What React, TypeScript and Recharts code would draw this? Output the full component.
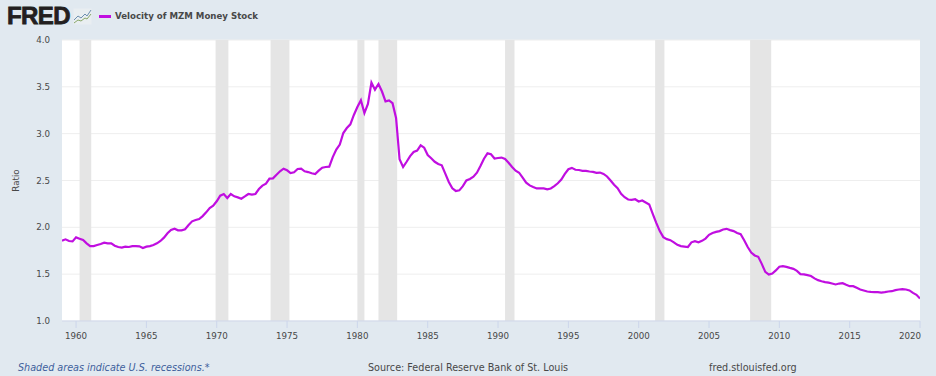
import { CartesianGrid, Label, Line, LineChart, ReferenceArea, XAxis, YAxis } from "recharts";

// quarterly values
const velocity1959to1969 = [
  1.858, 1.872, 1.854, 1.85, 1.893, 1.879, 1.865, 1.829, 1.8, 1.8, 1.811, 1.822,
  1.836, 1.829, 1.829, 1.804, 1.79, 1.783, 1.794, 1.79, 1.8, 1.8, 1.797, 1.78,
  1.794, 1.8, 1.811, 1.829, 1.854, 1.89, 1.936, 1.972, 1.986, 1.968, 1.968, 1.979,
  2.025, 2.064, 2.078, 2.089, 2.12, 2.16, 2.206, 2.23,
];
const velocity1970s = [
  2.278, 2.338, 2.356, 2.313, 2.356, 2.331, 2.32, 2.306, 2.33, 2.356, 2.349, 2.356,
  2.409, 2.445, 2.466, 2.52, 2.523, 2.562, 2.598, 2.626, 2.609, 2.58, 2.587, 2.623,
  2.626, 2.598, 2.59, 2.577, 2.569, 2.605, 2.637, 2.644, 2.648, 2.75, 2.83, 2.883,
  3.007, 3.06, 3.1, 3.2,
];
const velocity1980s = [
  3.285, 3.356, 3.22, 3.317, 3.545, 3.47, 3.53, 3.45, 3.345, 3.355, 3.325, 3.167,
  2.726, 2.644, 2.7, 2.76, 2.804, 2.82, 2.876, 2.85, 2.772, 2.737, 2.7, 2.676,
  2.662, 2.573, 2.484, 2.416, 2.388, 2.395, 2.44, 2.5, 2.516, 2.54, 2.583, 2.655,
  2.733, 2.79, 2.78, 2.735,
];
const velocity1990s = [
  2.74, 2.745, 2.73, 2.69, 2.644, 2.605, 2.583, 2.53, 2.477, 2.448, 2.43, 2.415,
  2.415, 2.415, 2.405, 2.415, 2.44, 2.47, 2.51, 2.57, 2.62, 2.635, 2.615, 2.612,
  2.603, 2.603, 2.596, 2.592, 2.582, 2.585, 2.57, 2.543, 2.5, 2.454, 2.418, 2.358,
  2.322, 2.297, 2.294, 2.3,
];
const velocity2000s = [
  2.276, 2.286, 2.265, 2.244, 2.144, 2.048, 1.96, 1.895, 1.874, 1.863, 1.84, 1.813,
  1.8, 1.795, 1.79, 1.84, 1.852, 1.84, 1.856, 1.88, 1.92, 1.94, 1.952, 1.96,
  1.977, 1.984, 1.97, 1.96, 1.94, 1.927, 1.863, 1.79, 1.73, 1.7, 1.685, 1.61,
  1.525, 1.495, 1.507, 1.54,
];
const velocity2010s = [
  1.58, 1.585, 1.578, 1.567, 1.557, 1.535, 1.5, 1.497, 1.49, 1.48, 1.455, 1.436,
  1.425, 1.415, 1.41, 1.4, 1.39, 1.4, 1.404, 1.386, 1.372, 1.372, 1.354, 1.336,
  1.326, 1.315, 1.31, 1.308, 1.308, 1.304, 1.308, 1.315, 1.318, 1.33, 1.336, 1.34,
  1.336, 1.326, 1.3, 1.28, 1.24,
];

const velocity = [
  ...velocity1959to1969,
  ...velocity1970s,
  ...velocity1980s,
  ...velocity1990s,
  ...velocity2000s,
  ...velocity2010s,
];

const yearTicks = [1960, 1965, 1970, 1975, 1980, 1985, 1990, 1995, 2000, 2005, 2010, 2015, 2020];
const ratioTicks = [1, 1.5, 2, 2.5, 3, 3.5, 4];
const recessions = [
  [1960.25, 1961.08],
  [1969.92, 1970.83],
  [1973.83, 1975.17],
  [1980.0, 1980.5],
  [1981.5, 1982.83],
  [1990.5, 1991.17],
  [2001.17, 2001.83],
  [2007.92, 2009.42],
];

const data = velocity.map((v, i) => ({ date: 1959 + i / 4, velocity: v }));

const FONT = "'DejaVu Sans', sans-serif";
const PAGE = "#e1e9f0";
const PURPLE = "#c00ee0";
const INK = "#484848";

function YearTick({ x, y, payload }: any) {
  const last = payload.value === 2020;
  return (
    <text x={last ? x + 1 : x} y={y} dy={9} textAnchor={last ? "end" : "middle"} fontSize={8.7} fontFamily={FONT} fill={INK}>
      {payload.value}
    </text>
  );
}

function Logo() {
  return (
    <div style={{ position: "absolute", left: 0, top: 0 }}>
      <span
        style={{
          position: "absolute",
          left: 7,
          top: 2,
          fontFamily: "'Liberation Sans', sans-serif",
          fontWeight: 700,
          fontSize: 24,
          lineHeight: "28px",
          color: "#231f20",
          letterSpacing: -0.6,
          WebkitTextStroke: "0.8px #231f20",
        }}
      >
        FRED
      </span>
      <svg width={20} height={17} style={{ position: "absolute", left: 73, top: 8 }}>
        <rect x={0.5} y={0.5} width={18} height={16} fill="#e9eef1" />
        <polyline points="1,12 5,8 8,10 12,6 14,8 18,2" fill="none" stroke="#6d8fb0" strokeWidth={1} />
        <polyline points="1,15 5,12 8,13 12,10 14,11 18,6" fill="none" stroke="#8aa86a" strokeWidth={1} />
      </svg>
    </div>
  );
}

const footerText = {
  position: "absolute",
  top: 361,
  fontFamily: FONT,
  fontSize: 9.65,
  lineHeight: "14px",
  color: INK,
  whiteSpace: "nowrap",
} as const;

export default function App() {
  return (
    <div style={{ position: "absolute", left: 0, top: 0, width: 936, height: 376, background: PAGE, overflow: "hidden" }}>
      <Logo />
      <div style={{ position: "absolute", left: 99, top: 15, width: 12, height: 2.5, background: PURPLE }} />
      <div
        style={{
          position: "absolute",
          left: 115,
          top: 9,
          fontFamily: FONT,
          fontWeight: 700,
          fontSize: 8.65,
          lineHeight: "14px",
          color: INK,
          whiteSpace: "nowrap",
        }}
      >
        Velocity of MZM Money Stock
      </div>
      <LineChart width={936} height={376} data={data} margin={{ top: 40, right: 16, left: 0, bottom: 0 }}>
        <CartesianGrid horizontal vertical={false} fill="#fff" stroke="#eeeeee" horizontalValues={ratioTicks} />
        <XAxis
          dataKey="date"
          type="number"
          domain={[1959, 2020]}
          ticks={yearTicks}
          interval={0}
          height={55}
          tick={<YearTick />}
          tickSize={7}
          tickLine={{ stroke: "#ccd6eb" }}
          axisLine={{ stroke: "#ccd6eb" }}
          allowDataOverflow
        />
        <YAxis
          type="number"
          domain={[1, 4]}
          ticks={ratioTicks}
          width={62}
          axisLine={false}
          tickLine={false}
          tickSize={0}
          tickMargin={12}
          tickFormatter={(v: number) => v.toFixed(1)}
          tick={{ fontSize: 8.7, fontFamily: FONT, fill: INK }}
        >
          <Label value="Ratio" angle={-90} position="insideLeft" offset={16} style={{ fontSize: 8.7, fontFamily: FONT, fill: INK, textAnchor: "middle" }} />
        </YAxis>
        {recessions.map(([from, to]) => (
          <ReferenceArea key={from} x1={from} x2={to} fill="#e5e5e5" fillOpacity={1} stroke="none" />
        ))}
        <Line type="linear" dataKey="velocity" stroke={PURPLE} strokeWidth={2.2} dot={false} isAnimationActive={false} />
      </LineChart>
      <div style={{ ...footerText, left: 18, fontStyle: "italic", color: "#3e5f9c" }}>Shaded areas indicate U.S. recessions.*</div>
      <div style={{ ...footerText, left: 368 }}>Source: Federal Reserve Bank of St. Louis</div>
      <div style={{ ...footerText, left: 709 }}>fred.stlouisfed.org</div>
    </div>
  );
}
